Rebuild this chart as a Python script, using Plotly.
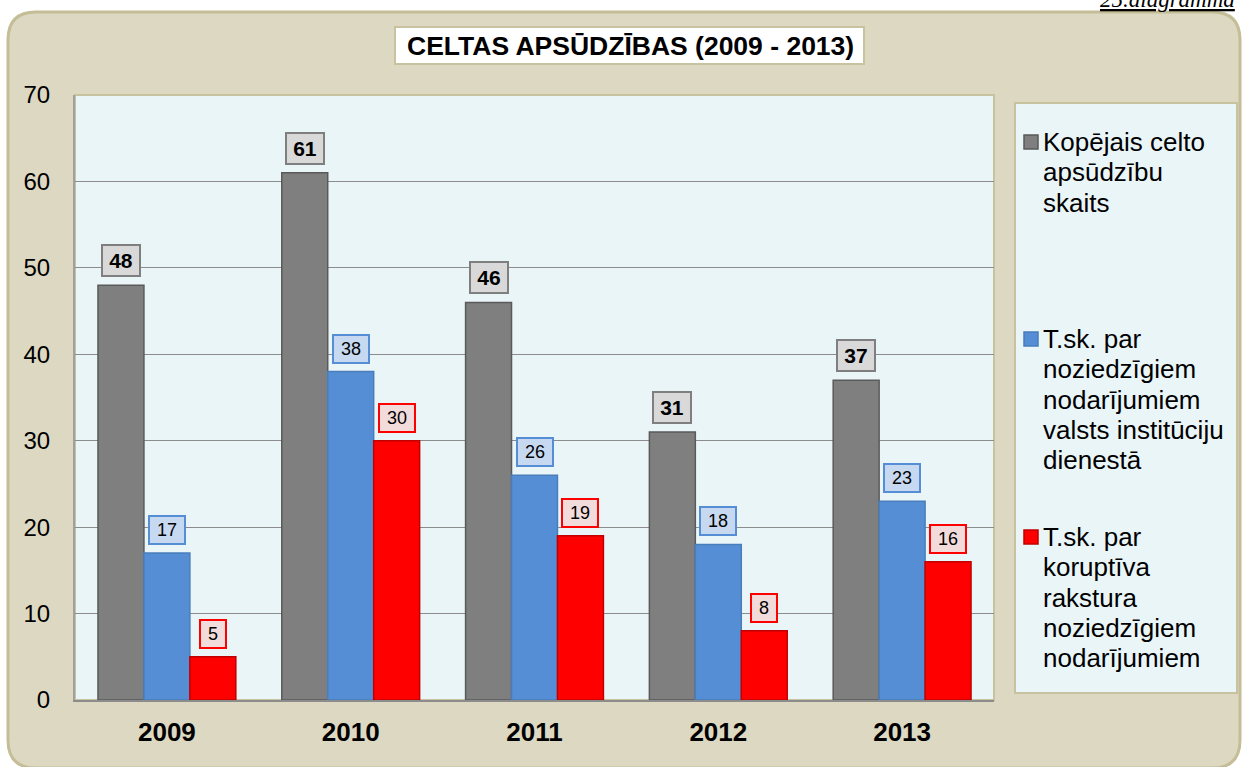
import plotly.graph_objects as go

years = ["2009", "2010", "2011", "2012", "2013"]
total = [48, 61, 46, 31, 37]
state_service = [17, 38, 26, 18, 23]
corruption = [5, 30, 19, 8, 16]
series_names = [
    "Kopējais celto<br>apsūdzību<br>skaits",
    "T.sk. par<br>noziedzīgiem<br>nodarījumiem<br>valsts institūciju<br>dienestā",
    "T.sk. par<br>koruptīva<br>rakstura<br>noziedzīgiem<br>nodarījumiem",
]
title_text = "CELTAS APSŪDZĪBAS (2009 - 2013)"
y_ticks = [0, 10, 20, 30, 40, 50, 60, 70]

W, H = 1243, 767
L, R, T, B = 75, 994, 95, 700
pw, ph = R - L, B - T
FONT = "Arial, Liberation Sans, sans-serif"


def px(x):
    return (x - L) / pw


def py(y):
    return (B - y) / ph


def rounded_rect(x0, y0, x1, y1, r):
    pts = [
        ("M", [(x0 + r, y0)]),
        ("L", [(x1 - r, y0)]),
        ("Q", [(x1, y0), (x1, y0 + r)]),
        ("L", [(x1, y1 - r)]),
        ("Q", [(x1, y1), (x1 - r, y1)]),
        ("L", [(x0 + r, y1)]),
        ("Q", [(x0, y1), (x0, y1 - r)]),
        ("L", [(x0, y0 + r)]),
        ("Q", [(x0, y0), (x0 + r, y0)]),
    ]
    s = ""
    for cmd, cs in pts:
        s += cmd + " " + " ".join(f"{px(a):.5f},{py(b):.5f}" for a, b in cs) + " "
    return s + "Z"


bargap = 0.25
series = [
    (total, "#7F7F7F", "#5A5A5A", "#D9D9D9", "#7F7F7F", True),
    (state_service, "#558ED5", "#4A7EBB", "#C6D9F1", "#558ED5", False),
    (corruption, "#FF0000", "#C00000", "#F2DCDB", "#FF0000", False),
]

fig = go.Figure()
for (vals, fill, edge, _, _, _), name in zip(series, series_names):
    fig.add_trace(go.Bar(
        x=years, y=vals, name=name.replace("<br>", " "),
        marker=dict(color=fill, line=dict(color=edge, width=1.5)),
        showlegend=False, hoverinfo="skip",
    ))

shapes = []
shapes.append(dict(type="path", xref="paper", yref="paper", layer="below",
                   path=rounded_rect(8, 12, 1240, 768, 28),
                   fillcolor="#DDD8C2", line=dict(color="#C4BD97", width=3)))
shapes.append(dict(type="rect", xref="paper", yref="paper", layer="below",
                   x0=0, x1=1, y0=0, y1=1, fillcolor="#EAF5F8",
                   line=dict(color="#C9C2A0", width=2)))
shapes.append(dict(type="rect", xref="paper", yref="paper", layer="below",
                   x0=px(395), x1=px(864), y0=py(64), y1=py(27),
                   fillcolor="#FFFFFF", line=dict(color="#C9C2A0", width=2)))
shapes.append(dict(type="rect", xref="paper", yref="paper", layer="below",
                   x0=px(1015), x1=px(1237), y0=py(693), y1=py(103),
                   fillcolor="#EAF5F8", line=dict(color="#C9C2A0", width=2)))

annotations = []
annotations.append(dict(text="<b>" + title_text + "</b>", xref="paper", yref="paper",
                        x=px(630), y=py(46), xanchor="center", yanchor="middle",
                        showarrow=False, font=dict(family=FONT, size=26.5, color="#000000")))
annotations.append(dict(text="<i><u>25.diagramma</u></i>", xref="paper", yref="paper",
                        x=px(1098), y=py(14), xanchor="left", yanchor="bottom",
                        showarrow=False,
                        font=dict(family="Liberation Serif, Times New Roman, serif", size=23,
                                  color="#000000")))

cat_w = pw / len(years)
bar_w = cat_w * (1 - bargap) / 3
offsets = [-bar_w, 0, bar_w]
for (vals, fill, edge, lbg, lborder, bold), off in zip(series, offsets):
    for idx, v in enumerate(vals):
        txt = f"<b>{v}</b>" if bold else str(v)
        w = 40 if bold else (18 + 10 * len(str(v)))
        h = 33 if bold else 30
        annotations.append(dict(
            text=txt, x=idx, y=v, xref="x", yref="y", xshift=off, yshift=8,
            xanchor="center", yanchor="bottom", showarrow=False,
            width=w - 4, height=h - 4, bgcolor=lbg, bordercolor=lborder, borderwidth=2,
            borderpad=0, align="center", valign="middle",
            font=dict(family=FONT, size=21 if bold else 18, color="#000000")))

legend_tops = [142, 339, 537]
line_step = 30.3
for (vals, fill, edge, _, _, _), name, top in zip(series, series_names, legend_tops):
    shapes.append(dict(type="rect", xref="paper", yref="paper", layer="above",
                       x0=px(1024), x1=px(1038), y0=py(top + 7), y1=py(top - 7),
                       fillcolor=fill, line=dict(color=edge, width=1.5)))
    for i, line in enumerate(name.split("<br>")):
        annotations.append(dict(text=line, xref="paper", yref="paper",
                                x=px(1041), y=py(top + i * line_step), xanchor="left",
                                yanchor="middle", showarrow=False,
                                font=dict(family=FONT, size=26, color="#000000")))

fig.update_layout(
    width=W, height=H,
    margin=dict(l=L, r=W - R, t=T, b=H - B, pad=0, autoexpand=False),
    paper_bgcolor="#FFFFFF", plot_bgcolor="rgba(0,0,0,0)",
    barmode="group", bargap=bargap, bargroupgap=0,
    shapes=shapes, annotations=annotations,
    showlegend=False,
    xaxis=dict(type="category", range=[-0.5, len(years) - 0.5],
               showline=True, linecolor="#8C8C8C", linewidth=2, ticks="",
               tickfont=dict(family=FONT, size=26, color="#000000"),
               tickvals=years, ticktext=[f"<b>{y}</b>" for y in years], tickangle=0,
               ticklabelstandoff=8, showgrid=False, automargin=False),
    yaxis=dict(range=[0, 70], tickvals=y_ticks, showline=True, linecolor="#A0A0A0",
               linewidth=2, gridcolor="#8C8C8C", gridwidth=1, zeroline=False, ticks="",
               tickfont=dict(family=FONT, size=24, color="#000000"),
               ticklabelstandoff=18, automargin=False),
)

fig.write_html("out.html", config={"displayModeBar": False},
               post_script="document.body.style.margin='0';document.body.style.overflow='hidden';")
